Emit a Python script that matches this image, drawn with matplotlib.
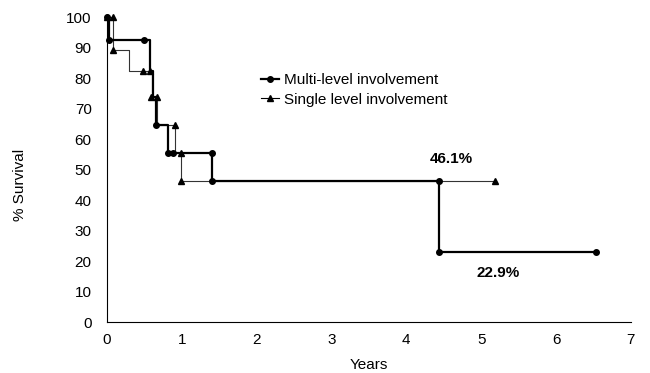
import matplotlib
matplotlib.use("Agg")
import matplotlib.pyplot as plt

plt.rcParams["font.family"] = ["Liberation Sans", "DejaVu Sans"]

# ── Data ──────────────────────────────────────────────────────────────────────
# step lines (where="post"): event time (years) and survival (%) after it
multi_t = [0, 0.03, 0.58, 0.62, 0.66, 0.82, 1.40, 4.43, 6.53]
multi_s = [100, 92.3, 82.3, 73.8, 64.6, 55.4, 46.1, 22.9, 22.9]
single_t = [0, 0.08, 0.30, 0.60, 0.67, 0.91, 0.99, 5.18]
single_s = [100, 89.2, 82.3, 73.8, 64.6, 55.4, 46.1, 46.1]

# plotted marker points
multi_mt = [0, 0.03, 0.49, 0.66, 0.82, 0.88, 1.40, 1.40, 4.43, 4.43, 6.53]
multi_ms = [100, 92.3, 92.3, 64.6, 55.4, 55.4, 55.4, 46.1, 46.1, 22.9, 22.9]
single_mt = [0, 0.08, 0.08, 0.48, 0.58, 0.59, 0.67, 0.91, 0.99, 0.99, 5.18]
single_ms = [100, 100, 89.2, 82.3, 82.3, 73.8, 73.8, 64.6, 55.4, 46.1, 46.1]

x_ticks = [0, 1, 2, 3, 4, 5, 6, 7]
y_ticks = [0, 10, 20, 30, 40, 50, 60, 70, 80, 90, 100]

fig = plt.figure(figsize=(6.5, 3.73), dpi=100)
ax = fig.add_axes([0.1646, 0.1367, 0.806, 0.8177])

ax.step(single_t, single_s, where="post", color="#333", lw=0.8, clip_on=False)
ax.plot(single_mt, single_ms, ls="none", marker="^", ms=5, color="black", clip_on=False)
ax.step(multi_t, multi_s, where="post", color="black", lw=1.6, clip_on=False)
ax.plot(multi_mt, multi_ms, ls="none", marker="o", ms=4, color="black", clip_on=False)

# legend handles
ax.plot([], [], color="black", lw=1.6, marker="o", ms=4, label="Multi-level involvement")
ax.plot([], [], color="black", lw=0.8, marker="^", ms=5, label="Single level involvement")
handles, labels = ax.get_legend_handles_labels()
ax.legend(handles[-2:], labels[-2:], frameon=False, fontsize=11, handlelength=1.2,
          handletextpad=0.3, labelspacing=0.35, loc="upper left",
          bbox_to_anchor=(0.268, 0.86))

ax.text(4.6, 51, "46.1%", ha="center", va="bottom", fontsize=11, fontweight="bold")
ax.text(5.22, 18.5, "22.9%", ha="center", va="top", fontsize=11, fontweight="bold")

ax.set_xlim(0, 7)
ax.set_ylim(0, 100)
ax.set_xticks(x_ticks)
ax.set_yticks(y_ticks)
ax.tick_params(length=0, labelsize=11)
ax.tick_params(axis="x", pad=8)
ax.tick_params(axis="y", pad=11)
ax.set_xlabel("Years", fontsize=11, labelpad=8)
ax.set_ylabel("% Survival", fontsize=11)
ax.yaxis.set_label_coords(-0.152, 0.45)
ax.spines[["top", "right"]].set_visible(False)
ax.spines["left"].set_linewidth(0.8)
ax.spines["bottom"].set_linewidth(0.8)

fig.savefig("out.png", dpi=100)
